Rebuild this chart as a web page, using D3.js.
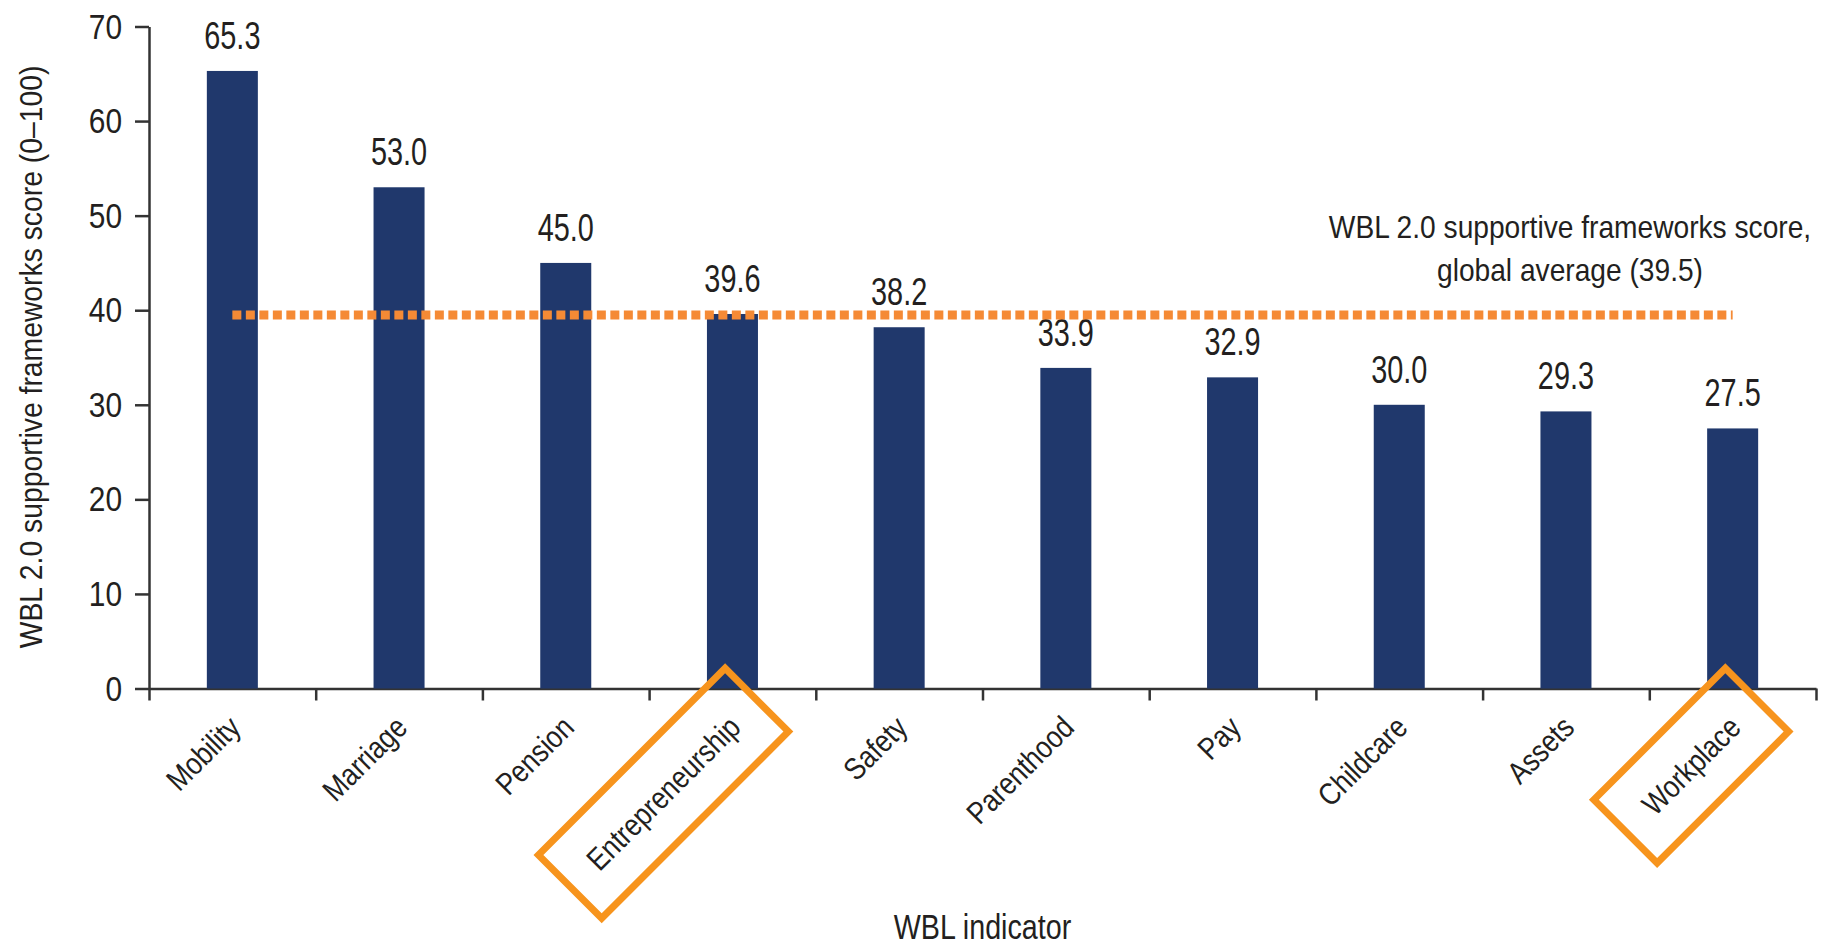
<!DOCTYPE html>
<html>
<head>
<meta charset="utf-8">
<script src="https://cdn.jsdelivr.net/npm/d3@7"></script>
<style>
  html, body { margin: 0; padding: 0; background: #fff; }
  svg { display: block; }
  text { font-family: "Liberation Sans", Arial, sans-serif; fill: #231f20; }
  .axis path, .axis line { stroke: #333; stroke-width: 2.5; }
</style>
</head>
<body>
<div id="chart"></div>
<script>
const categories = ['Mobility', 'Marriage', 'Pension', 'Entrepreneurship', 'Safety',
  'Parenthood', 'Pay', 'Childcare', 'Assets', 'Workplace']
const scores = [65.3, 53.0, 45.0, 39.6, 38.2, 33.9, 32.9, 30.0, 29.3, 27.5]
const yTicks = [0, 10, 20, 30, 40, 50, 60, 70]
const globalAverage = 39.5
const averageLabel = ['WBL 2.0 supportive frameworks score,', 'global average (39.5)']
const highlighted = ['Entrepreneurship', 'Workplace']
const yTitle = 'WBL 2.0 supportive frameworks score (0\u2013100)'
const xTitle = 'WBL indicator'

const width = 1824
const height = 947
const margin = { left: 149, right: 8, top: 26.5, bottom: 258.5 }

// the source uses a condensed face; squeeze Liberation Sans horizontally
function condense (sel, f) {
  sel.each(function () {
    const el = d3.select(this)
    el.attr('x', (+el.attr('x') || 0) / f)
      .attr('transform', `${el.attr('transform') || ''} scale(${f}, 1)`)
    el.selectAll('tspan').attr('x', function () {
      return (+d3.select(this).attr('x') || 0) / f
    })
  })
}

const svg = d3.select('#chart')
  .append('svg')
  .attr('width', width)
  .attr('height', height)

const x = d3.scaleBand()
  .domain(categories)
  .range([margin.left, width - margin.right])
  .paddingInner(0.694)
  .paddingOuter(0.347)

const y = d3.scaleLinear()
  .domain([0, 70])
  .range([height - margin.bottom, margin.top])

// ticks at the band edges
const edges = d3.scaleLinear()
  .domain([0, categories.length])
  .range([margin.left, width - margin.right])

svg.append('g')
  .attr('class', 'axis')
  .attr('transform', `translate(0, ${y(0)})`)
  .call(d3.axisBottom(edges).ticks(categories.length).tickSizeInner(12).tickSizeOuter(0).tickFormat(''))

svg.append('g')
  .attr('class', 'axis')
  .attr('transform', `translate(${margin.left}, 0)`)
  .call(d3.axisLeft(y).tickValues(yTicks).tickSizeInner(14).tickSizeOuter(0).tickPadding(13))
  .call(g => g.selectAll('text')
    .style('font-size', '36px')
    .attr('fill', '#231f20')
    .call(condense, 0.83))

const data = categories.map((c, i) => ({ name: c, value: scores[i] }))

svg.append('g')
  .selectAll('rect')
  .data(data)
  .join('rect')
  .attr('x', d => x(d.name))
  .attr('y', d => y(d.value))
  .attr('width', x.bandwidth())
  .attr('height', d => y(0) - y(d.value))
  .attr('fill', '#20386c')

svg.append('g')
  .selectAll('text')
  .data(data)
  .join('text')
  .attr('x', d => x(d.name) + x.bandwidth() / 2)
  .attr('y', d => y(d.value) - 22)
  .attr('text-anchor', 'middle')
  .style('font-size', '38px')
  .text(d => d3.format('.1f')(d.value))
  .call(condense, 0.76)

// global average line
svg.append('line')
  .attr('x1', x(categories[0]) + x.bandwidth() / 2)
  .attr('x2', x(categories[categories.length - 1]) + x.bandwidth() / 2)
  .attr('y1', y(globalAverage))
  .attr('y2', y(globalAverage))
  .attr('stroke', '#f58a35')
  .attr('stroke-width', 9)
  .attr('stroke-dasharray', '9,4.5')

svg.append('text')
  .attr('x', 1570)
  .attr('y', 238)
  .attr('text-anchor', 'middle')
  .style('font-size', '32px')
  .call(t => t.selectAll('tspan')
    .data(averageLabel)
    .join('tspan')
    .attr('x', 1570)
    .attr('dy', (d, i) => i ? 43 : 0)
    .text(d => d))
  .call(condense, 0.88)

// rotated category labels
const labelSqueeze = 0.85
const labels = svg.append('g')
  .selectAll('g')
  .data(categories)
  .join('g')
  .attr('transform', d => `translate(${x(d) + x.bandwidth() / 2 + 10}, ${y(0) + 41}) rotate(-45)`)

labels.append('text')
  .attr('text-anchor', 'end')
  .style('font-size', '31px')
  .text(d => d)
  .call(condense, labelSqueeze)

const padAlong = 31
const padAcross = 27.5
labels.filter(d => highlighted.includes(d))
  .each(function () {
    const g = d3.select(this)
    const b = g.select('text').node().getBBox()
    g.append('rect')
      .attr('x', b.x * labelSqueeze - padAlong)
      .attr('y', b.y - padAcross)
      .attr('width', b.width * labelSqueeze + padAlong * 2)
      .attr('height', b.height + padAcross * 2)
      .attr('fill', 'none')
      .attr('stroke', '#f7941d')
      .attr('stroke-width', 7)
  })

svg.append('text')
  .attr('transform', 'translate(42, 357) rotate(-90)')
  .attr('text-anchor', 'middle')
  .style('font-size', '32px')
  .text(yTitle)
  .call(condense, 0.885)

svg.append('text')
  .attr('x', (margin.left + width - margin.right) / 2)
  .attr('y', 939)
  .attr('text-anchor', 'middle')
  .style('font-size', '35px')
  .text(xTitle)
  .call(condense, 0.82)
</script>
</body>
</html>
